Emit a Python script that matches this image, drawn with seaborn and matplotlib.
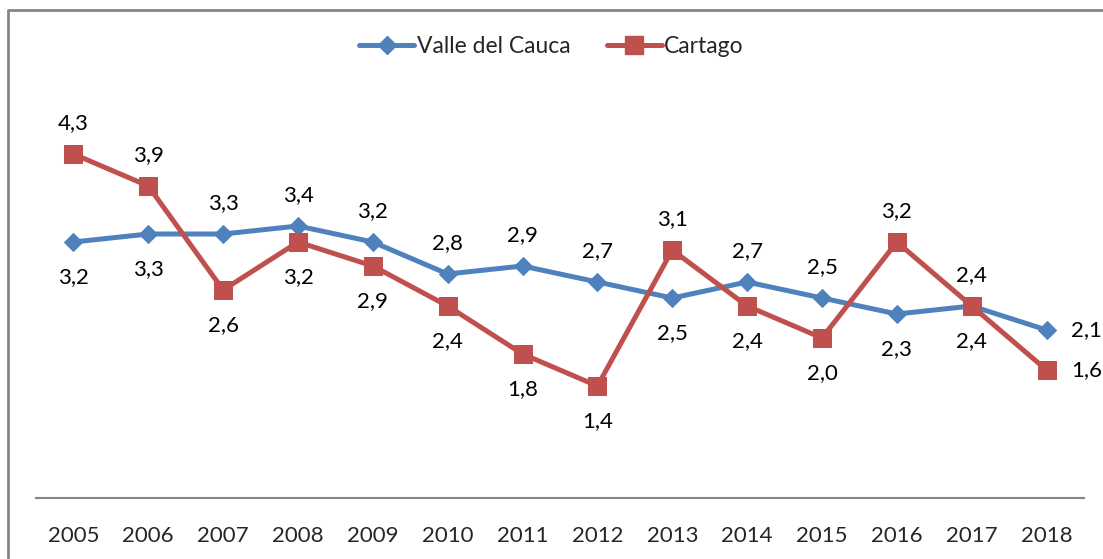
import matplotlib
matplotlib.use("Agg")
import matplotlib.pyplot as plt
import seaborn as sns
import pandas as pd
from matplotlib.lines import Line2D

# data
years = ["2005", "2006", "2007", "2008", "2009", "2010", "2011",
         "2012", "2013", "2014", "2015", "2016", "2017", "2018"]
valle = [3.2, 3.3, 3.3, 3.4, 3.2, 2.8, 2.9, 2.7, 2.5, 2.7, 2.5, 2.3, 2.4, 2.1]
cartago = [4.3, 3.9, 2.6, 3.2, 2.9, 2.4, 1.8, 1.4, 3.1, 2.4, 2.0, 3.2, 2.4, 1.6]

# where each data label sits
valle_pos = ["below", "below", "above", "above", "above", "above", "above",
             "above", "below", "above", "above", "below", "below", "right"]
cartago_pos = ["above", "above", "below", "below", "below", "below", "below",
               "below", "above", "below", "below", "above", "above", "right"]

sns.set_style("white")
plt.rcParams["font.family"] = ["Lato", "DejaVu Sans"]

BLUE = "#4F81BD"
RED = "#C0504D"
FS = 16

df = pd.DataFrame({"year": years, "Valle del Cauca": valle, "Cartago": cartago})
df["x"] = range(len(years))

fig = plt.figure(figsize=(11.03, 5.59), dpi=100)
ax = fig.add_axes([36 / 1103, 1 - 498 / 559, 1048 / 1103, 400 / 559])

sns.lineplot(data=df, x="x", y="Valle del Cauca", ax=ax, color=BLUE,
             linewidth=3.6, marker="D", markersize=9.5, markeredgecolor=BLUE)
sns.lineplot(data=df, x="x", y="Cartago", ax=ax, color=RED,
             linewidth=3.6, marker="s", markersize=13.5, markeredgecolor=RED)

offsets = {"above": (0, 31), "below": (0, -35), "right": (40, 0)}


def put_labels(values, positions):
    for i, (v, p) in enumerate(zip(values, positions)):
        ax.annotate(f"{v:.1f}".replace(".", ","), (i, v),
                    xytext=offsets[p], textcoords="offset pixels",
                    ha="center", va="center", fontsize=FS, color="black")


put_labels(valle, valle_pos)
put_labels(cartago, cartago_pos)

ax.set_xlim(-0.5, len(years) - 0.5)
ax.set_ylim(0, 5)
ax.set_xticks(range(len(years)))
ax.set_xticklabels(years, fontsize=FS)
ax.set_yticks([])
ax.set_xlabel("")
ax.set_ylabel("")
ax.tick_params(axis="x", length=0, pad=20)
for s in ["top", "right", "left"]:
    ax.spines[s].set_visible(False)
ax.spines["bottom"].set_color("#868686")
ax.spines["bottom"].set_linewidth(1.5)
for ln in ax.lines:
    ln.set_clip_on(False)

handles = [
    Line2D([], [], color=BLUE, linewidth=3.6, marker="D", markersize=9.5),
    Line2D([], [], color=RED, linewidth=3.6, marker="s", markersize=13.5),
]
fig.legend(handles, ["Valle del Cauca", "Cartago"], loc="center",
           bbox_to_anchor=(0.5, 1 - 47 / 559), ncol=2, frameon=False,
           fontsize=FS + 0.5, handlelength=2.4, handletextpad=0.1, columnspacing=1.6)

# chart border (top / left edges visible)
fig.add_artist(Line2D([8 / 1103, 8 / 1103, 1.0], [0.0, 1 - 10 / 559, 1 - 10 / 559],
                      transform=fig.transFigure, color="#868686", linewidth=2))

fig.savefig("out.png", dpi=100)
